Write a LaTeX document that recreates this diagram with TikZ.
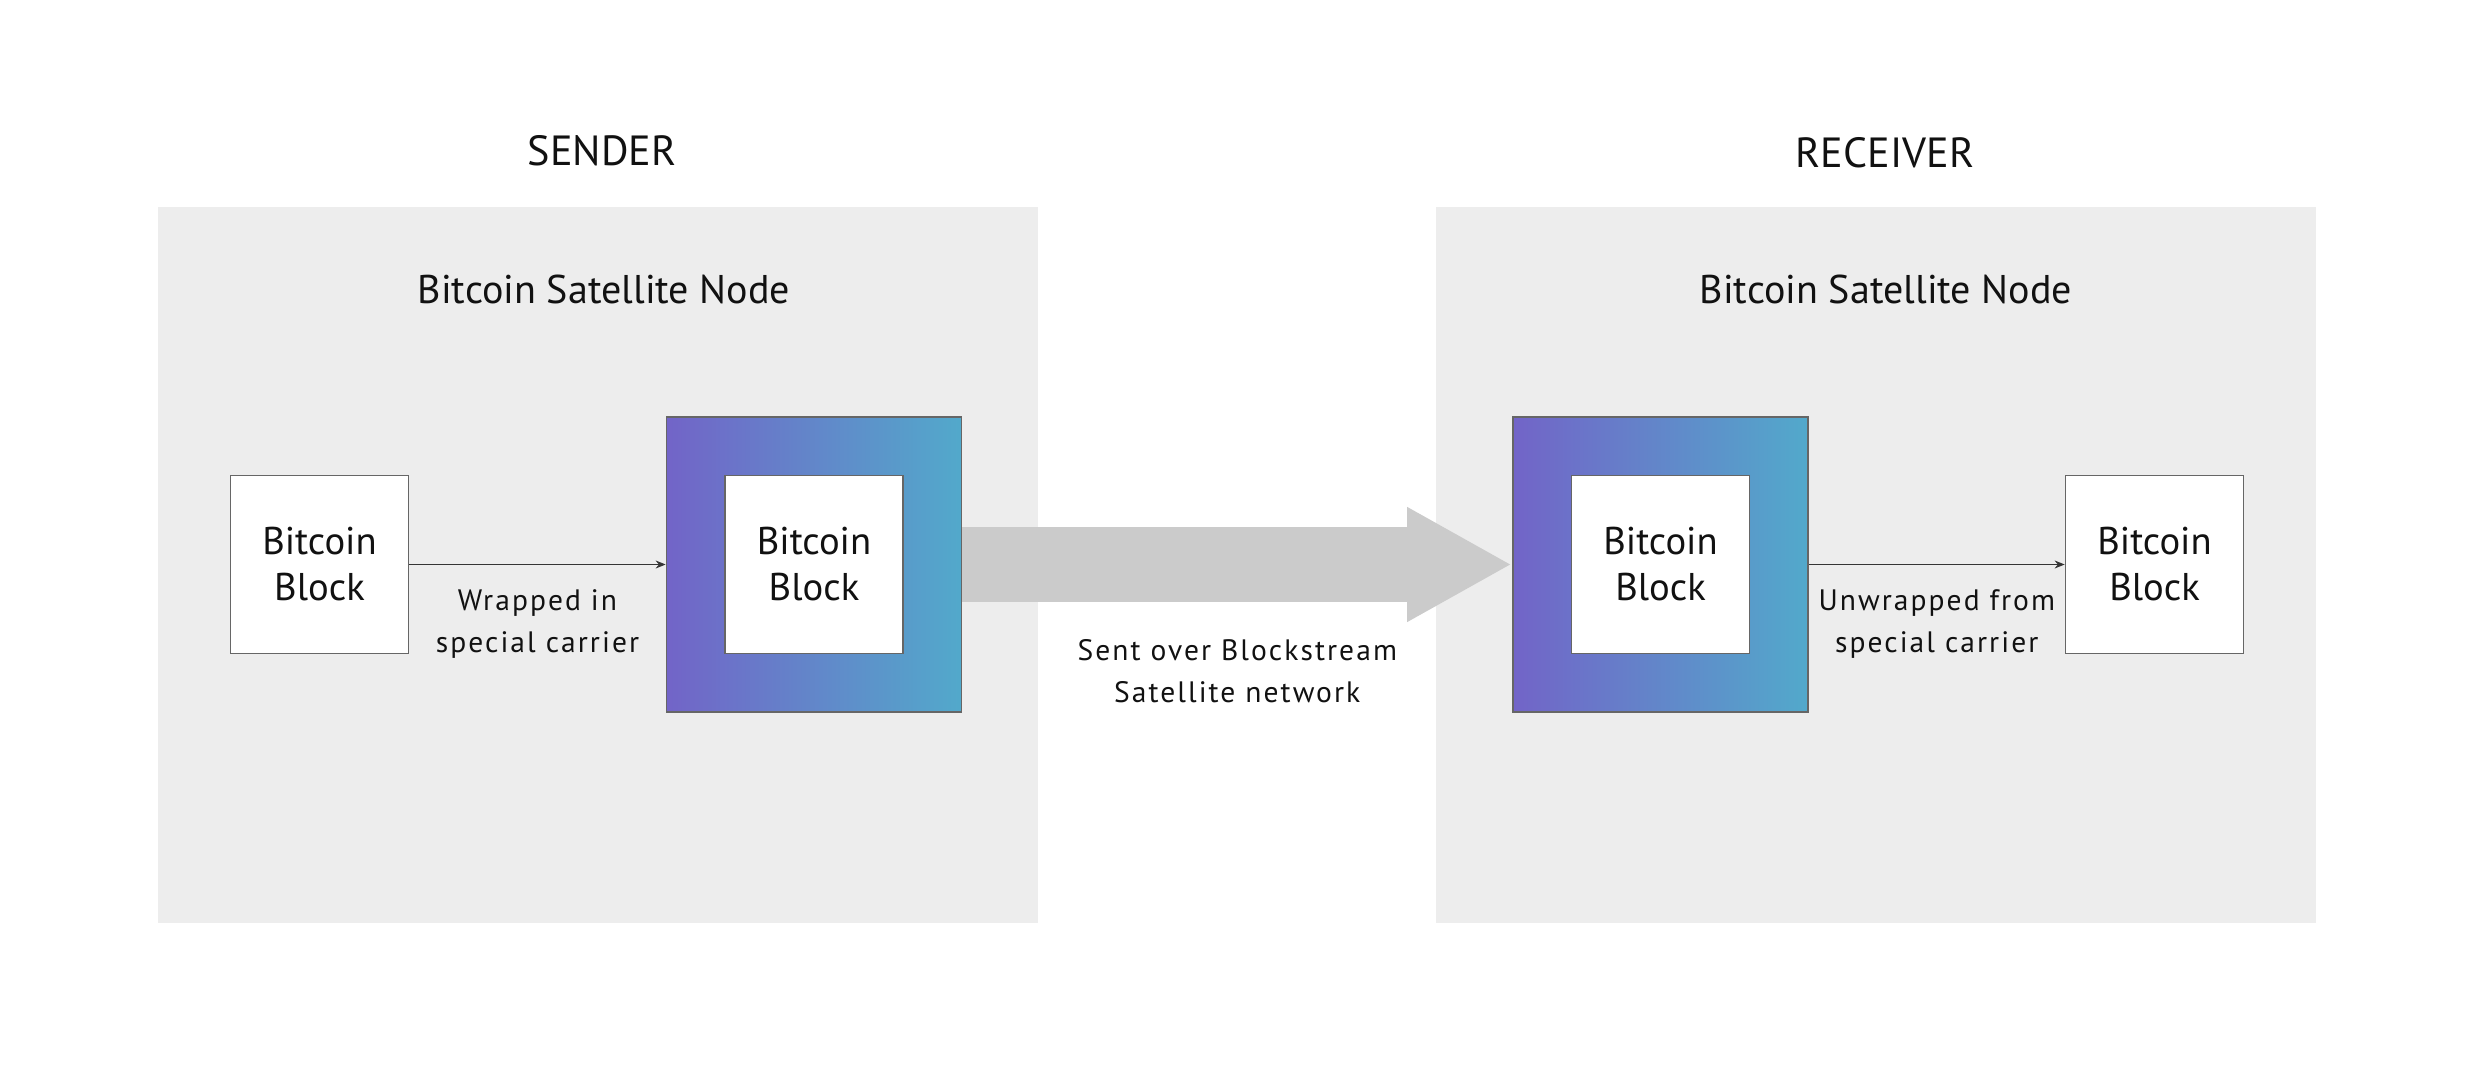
\documentclass[tikz,border=0pt]{standalone}
\usepackage{fontspec}
\setmainfont{PT Sans}
\newfontfamily\lblfont[LetterSpace=7]{PT Sans}
\usetikzlibrary{arrows.meta}
\definecolor{panelgrey}{HTML}{EDEDED}
\definecolor{pipegrey}{HTML}{CBCBCB}
\definecolor{wrapleft}{HTML}{7264C8}
\definecolor{wrapright}{HTML}{52A9CB}
\definecolor{edgegrey}{HTML}{666666}
\definecolor{inkblack}{HTML}{111111}
\tikzset{
	panel/.style = {fill = panelgrey, minimum width = 8.8cm, minimum height = 7.16cm, inner sep = 0pt},
	wrapper/.style = {draw = edgegrey, line width = 0.5pt, left color = wrapleft, right color = wrapright, minimum size = 2.95cm, inner sep = 0pt},
	block/.style = {draw = edgegrey, line width = 0.5pt, fill = white, minimum size = 1.78cm, inner sep = 0pt, align = center, text = inkblack, font = \fontsize{11}{13.1}\selectfont},
	heading/.style = {text = inkblack, font = \fontsize{11.4}{13}\selectfont},
	flow/.style = {draw = inkblack!85, line width = 0.4pt, -{Stealth[length = 1mm, width = 0.8mm]}},
	lbl/.style = {align = center, text = inkblack, font = \lblfont\fontsize{8.4}{11.95}\selectfont}
}
\begin{document}
\begin{tikzpicture}
				\useasboundingbox (0,0) rectangle (24.74,10.82);
				% the two sides
				\node[panel] (sendpanel) at (5.98,5.17) {};
				\node[panel] (recvpanel) at (18.76,5.17) {};
				\node[heading, font = \fontsize{12}{14}\selectfont] (sendtitle) at (6.02,9.31) {SENDER};
				\node[heading, font = \fontsize{12}{14}\selectfont] (recvtitle) at (18.85,9.29) {RECEIVER};
				\node[heading] (sendnode) at (6.04,7.93) {Bitcoin Satellite Node};
				\node[heading] (recvnode) at (18.86,7.93) {Bitcoin Satellite Node};
				
				% blocks
				\node[block] (blockA) at (3.195,5.175) {Bitcoin\\Block};
				\node[wrapper] (wrapA) at (8.14,5.175) {};
				\node[block] (innerA) at (wrapA) {Bitcoin\\Block};
				\node[wrapper] (wrapB) at (16.605,5.175) {};
				\node[block] (innerB) at (wrapB) {Bitcoin\\Block};
				\node[block] (blockB) at (21.545,5.175) {Bitcoin\\Block};
				
				% satellite link
				\draw[pipegrey, line width = 0.75cm, -{Triangle[width = 1.07cm, length = 1.05cm]}] (wrapA.east) -- (wrapB.west)
					node[midway, lbl, yshift = -1.07cm] (sentlbl) {Sent over Blockstream\\Satellite network};
				
				\draw[flow] (blockA) -- (wrapA) node[midway, lbl, yshift = -0.6cm] (wraplbl) {Wrapped in\\special carrier};
				\draw[flow] (wrapB) -- (blockB) node[midway, lbl, yshift = -0.6cm] (unwraplbl) {Unwrapped from\\special carrier};
			\end{tikzpicture}
\end{document}
